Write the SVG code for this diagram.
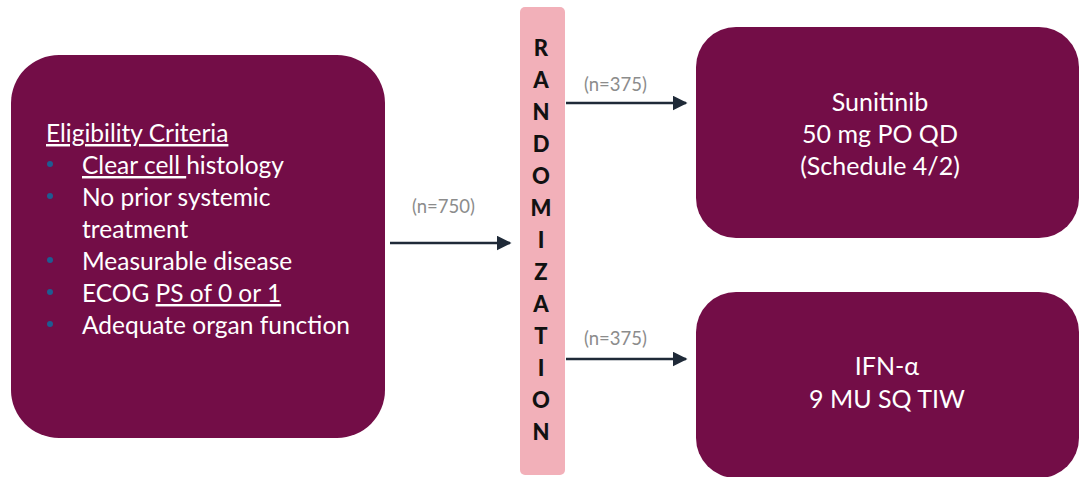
<svg xmlns="http://www.w3.org/2000/svg" width="1079" height="477" viewBox="0 0 1079 477">
  <defs>
    <style>
      .box { fill: #730D47; }
      .bar { fill: #F2B0B9; }
      .txt { font-family: Lato, "Open Sans", sans-serif; fill: #FFFFFF; font-size: 24.5px; }
      .arm { font-family: Lato, "Open Sans", sans-serif; fill: #FFFFFF; font-size: 25px; text-anchor: middle; }
      .u { text-decoration: underline; }
      .lbl { font-family: Lato, "Open Sans", sans-serif; fill: #8C8C8C; font-size: 18.5px; }
      .rnd { font-family: Lato, "Open Sans", sans-serif; font-weight: 900; font-size: 22px; fill: #111111; text-anchor: middle; }
      .dot { fill: #1E5C92; }
      .conn { stroke: #1F2A38; stroke-width: 2.5; fill: none; marker-end: url(#head); }
    </style>
    <marker id="head" viewBox="0 0 10 10" refX="9" refY="5" markerUnits="userSpaceOnUse" markerWidth="15" markerHeight="15" orient="auto">
      <path d="M0,0 L10,5 L0,10 z" fill="#1F2A38"/>
    </marker>
  </defs>

  <!-- eligibility criteria -->
  <g id="eligibility">
    <rect class="box" x="11" y="55" width="374" height="383" rx="48" ry="48"/>
    <text class="txt u" x="46" y="142">Eligibility Criteria</text>
    <circle class="dot" cx="50" cy="164" r="3"/>
    <circle class="dot" cx="50" cy="196" r="3"/>
    <circle class="dot" cx="50" cy="260" r="3"/>
    <circle class="dot" cx="50" cy="292" r="3"/>
    <circle class="dot" cx="50" cy="324" r="3"/>
    <text class="txt" x="82" y="174" xml:space="preserve"><tspan class="u">Clear cell </tspan>histology</text>
    <text class="txt" x="82" y="206">No prior systemic</text>
    <text class="txt" x="82" y="238">treatment</text>
    <text class="txt" x="82" y="270">Measurable disease</text>
    <text class="txt" x="82" y="302" xml:space="preserve">ECOG <tspan class="u">PS of 0 or 1</tspan></text>
    <text class="txt" x="82" y="334">Adequate organ function</text>
  </g>

  <!-- randomization bar -->
  <g id="randomization">
    <rect class="bar" x="520" y="7" width="45" height="468" rx="5" ry="5"/>
    <text class="rnd" x="541" y="56">R</text>
    <text class="rnd" x="541" y="88">A</text>
    <text class="rnd" x="541" y="120">N</text>
    <text class="rnd" x="541" y="152">D</text>
    <text class="rnd" x="541" y="184">O</text>
    <text class="rnd" x="541" y="216">M</text>
    <text class="rnd" x="541" y="248">I</text>
    <text class="rnd" x="541" y="280">Z</text>
    <text class="rnd" x="541" y="312">A</text>
    <text class="rnd" x="541" y="344">T</text>
    <text class="rnd" x="541" y="376">I</text>
    <text class="rnd" x="541" y="408">O</text>
    <text class="rnd" x="541" y="440">N</text>
  </g>

  <!-- treatment arms -->
  <g id="sunitinib">
    <rect class="box" x="696" y="27" width="383" height="211" rx="40" ry="40"/>
    <text class="arm" x="880" y="111">Sunitinib</text>
    <text class="arm" x="880" y="143">50 mg PO QD</text>
    <text class="arm" x="880" y="175">(Schedule 4/2)</text>
  </g>

  <g id="ifn">
    <rect class="box" x="696" y="292" width="383" height="186" rx="40" ry="40"/>
    <text class="arm" x="887" y="375">IFN-α</text>
    <text class="arm" x="887" y="408">9 MU SQ TIW</text>
  </g>

  <!-- connectors -->
  <g id="connectors">
    <line class="conn" x1="390" y1="243" x2="510" y2="243"/>
    <line class="conn" x1="566" y1="103" x2="686" y2="103"/>
    <line class="conn" x1="566" y1="359" x2="686" y2="359"/>
    <text class="lbl" x="412" y="213">(n=750)</text>
    <text class="lbl" x="584" y="91">(n=375)</text>
    <text class="lbl" x="584" y="345">(n=375)</text>
  </g>
</svg>
